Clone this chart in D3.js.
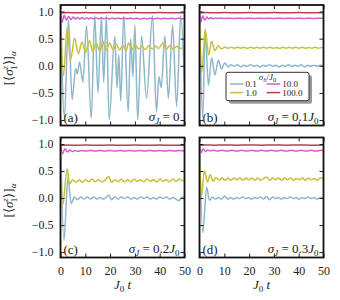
<!DOCTYPE html>
<html><head><meta charset="utf-8">
<script src="https://cdn.jsdelivr.net/npm/d3@7"></script>
<style>body{margin:0;background:#fff} svg{display:block} svg text{font-family:"Liberation Serif","Times New Roman",serif !important;fill:#222}</style>
</head><body><svg id="c" width="340" height="300" font-family="Liberation Serif"></svg>
<script>
// ---------- data ----------
const sigmaH = ["0.1","1.0","10.0","100.0"];
const sigmaJ = ["0","0.1","0.2","0.3"];
const panelTags = ["(a)","(b)","(c)","(d)"];
const colors = ["#8fb7ca","#c9c03d","#cc62d2","#b3424c"];
const xTicks = [0,10,20,30,40,50];
const yTicks = [1.0,0.5,0.0,-0.5,-1.0];
const yTickLabels = ["1.0","0.5","0.0","\u22120.5","\u22121.0"];

// panel (a), sigma_J = 0
const aBlue = [[0,1.0],[1.6,-0.95],[3.2,0.85],[4.7,-0.62],[6.1,-0.05],[6.8,-0.15],[7.7,0.07],[9.0,-0.30],[10.5,0.74],[12.4,-0.97],[13.8,0.92],[15.1,-0.5],[16.5,0.9],[17.4,-0.3],[18.5,0.92],[19.6,-1.0],[21.9,0.55],[22.8,-0.4],[23.5,0.2],[24.3,-0.65],[25.5,0.92],[27.3,-0.85],[28.3,0.5],[29.2,-0.2],[30.0,0.75],[31.1,-1.0],[32.7,0.55],[34.7,-0.6],[37.1,0.92],[38.7,-0.85],[39.7,-0.2],[40.6,-0.4],[42.1,0.55],[43.5,-0.6],[45.2,0.75],[46.8,-0.75],[48.5,0.92],[50,-0.3]];
const aYellow = [[0,1.0],[1.2,-0.18],[2.7,0.70],[4.0,0.10],[5.7,0.51],[7.2,0.22],[8.6,0.44],[10.1,0.25],[11.7,0.46],[13.0,0.26],[14.4,0.42],[15.8,0.27],[17.1,0.45],[18.4,0.28],[19.8,0.42],[21.2,0.30],[22.5,0.40],[23.8,0.29],[25.2,0.38],[26.5,0.28],[27.4,0.42],[28.8,0.30],[30.2,0.38],[31.5,0.31],[32.8,0.36],[34.2,0.30],[35.6,0.37],[37.0,0.31],[38.3,0.36],[39.6,0.32],[41.2,0.42],[42.6,0.30],[44.0,0.37],[45.4,0.31],[46.8,0.36],[48.2,0.32],[50,0.34]];
const aMagenta = [[0,1.0],[0.6,0.80],[1.5,0.93],[2.4,0.84],[3.3,0.91],[4.2,0.85],[5.1,0.90],[6.0,0.86],[6.9,0.89],[7.8,0.86],[8.7,0.89],[9.6,0.86],[10.5,0.885],[11.4,0.865],[12.4,0.885],[13.4,0.865],[14.4,0.88],[15.4,0.865],[16.5,0.885],[17.5,0.865],[18.6,0.88],[19.6,0.86],[20.8,0.88],[22,0.865],[23.2,0.88],[24.4,0.865],[25.6,0.88],[26.8,0.865],[28,0.875],[29.4,0.865],[30.8,0.875],[32.2,0.86],[33.6,0.875],[35,0.865],[36.4,0.875],[37.8,0.865],[39.2,0.875],[40.6,0.865],[42,0.875],[43.4,0.865],[44.8,0.875],[46.2,0.865],[47.6,0.875],[49,0.865],[50,0.87]];
const aRed = [[0,1.0],[0.5,0.975],[3,0.98],[6,0.975],[10,0.98],[15,0.975],[20,0.98],[25,0.975],[30,0.98],[35,0.975],[40,0.98],[45,0.975],[50,0.977]];

// panel (b), sigma_J = 0.1 J0
const bBlue = [[0,1.0],[1.3,-0.95],[2.3,0.66],[3.6,-0.36],[4.9,0.15],[6.2,-0.17],[7.6,0.10],[8.9,-0.06],[10.2,0.05],[11.5,-0.02],[12.8,0.02],[14.0,-0.01],[15.3,0.02],[16.6,-0.02],[17.9,0.01],[19.2,-0.01],[20.5,0.02],[21.8,-0.01],[23.0,0.01],[24.3,-0.02],[25.6,0.01],[26.9,-0.01],[28.2,0.02],[29.5,-0.01],[30.8,0.01],[32.0,-0.02],[33.3,0.01],[34.6,-0.01],[35.9,0.02],[37.2,-0.01],[38.5,0.01],[39.8,-0.01],[41.0,0.02],[42.3,-0.02],[43.6,0.01],[44.9,-0.01],[46.2,0.01],[47.5,-0.01],[48.8,0.01],[50,0.0]];
const bYellow = [[0,1.0],[0.9,-0.12],[2.3,0.67],[3.7,0.20],[4.9,0.45],[6.2,0.28],[7.6,0.37],[8.9,0.31],[10.2,0.345],[11.5,0.325],[12.8,0.34],[14.1,0.325],[15.4,0.34],[16.7,0.325],[18.0,0.34],[19.3,0.32],[20.6,0.34],[21.9,0.325],[23.2,0.34],[24.5,0.325],[25.8,0.34],[27.1,0.325],[28.4,0.34],[29.7,0.325],[31.0,0.335],[32.3,0.32],[33.6,0.34],[34.9,0.325],[36.2,0.34],[37.5,0.325],[38.8,0.34],[40.1,0.325],[41.4,0.34],[42.7,0.325],[44.0,0.335],[45.3,0.325],[46.6,0.34],[47.9,0.325],[49.2,0.335],[50,0.33]];
const bMagenta = [[0,1.0],[0.5,0.80],[1.3,0.92],[2.1,0.84],[3.0,0.90],[3.8,0.86],[4.6,0.89],[5.5,0.865],[6.4,0.88],[7.3,0.87],[8.5,0.88],[10,0.87],[12,0.878],[14,0.87],[16,0.878],[18,0.87],[20,0.878],[22,0.87],[24,0.878],[26,0.87],[28,0.878],[30,0.87],[32,0.878],[34,0.87],[36,0.878],[38,0.87],[40,0.878],[42,0.87],[44,0.878],[46,0.87],[48,0.878],[50,0.874]];
const bRed = [[0,1.0],[0.5,0.975],[3,0.98],[6,0.975],[10,0.98],[15,0.976],[20,0.98],[25,0.976],[30,0.98],[35,0.976],[40,0.98],[45,0.976],[50,0.978]];

// panel (c), sigma_J = 0.2 J0
const cBlue = [[0,1.0],[1.4,-0.78],[3.0,0.37],[4.3,-0.10],[5.6,0.02],[6.9,-0.03],[8.2,0.02],[9.5,-0.02],[10.8,0.02],[12.1,-0.02],[13.4,0.02],[14.7,-0.02],[16.0,0.01],[17.3,-0.02],[18.6,0.02],[19.5,0.05],[20.6,-0.03],[21.9,0.02],[23.2,-0.02],[24.5,0.02],[25.8,-0.01],[27.1,0.02],[28.4,-0.02],[29.7,0.01],[31.0,-0.02],[32.3,0.02],[33.6,-0.01],[34.9,0.02],[36.2,-0.02],[37.5,0.01],[38.8,-0.02],[40.1,0.02],[41.4,-0.01],[42.7,0.02],[44.0,-0.02],[45.3,0.01],[46.6,-0.02],[47.8,-0.05],[49.0,0.02],[50,0.01]];
const cYellow = [[0,1.0],[0.9,-0.13],[2.7,0.54],[3.6,0.26],[4.9,0.34],[6.2,0.29],[7.5,0.34],[8.8,0.29],[10.1,0.34],[11.4,0.30],[12.7,0.35],[14.0,0.30],[15.3,0.34],[16.6,0.30],[17.9,0.33],[19.4,0.40],[20.6,0.29],[21.9,0.34],[23.2,0.30],[24.5,0.35],[25.8,0.30],[27.1,0.34],[28.4,0.30],[29.7,0.35],[31.0,0.31],[32.3,0.34],[33.6,0.30],[34.9,0.35],[36.2,0.31],[37.5,0.34],[38.8,0.30],[40.1,0.35],[41.4,0.31],[42.7,0.34],[44.0,0.30],[45.3,0.35],[46.6,0.31],[47.9,0.35],[49.2,0.32],[50,0.34]];
const cMagenta = [[0,1.0],[0.8,0.82],[1.8,0.91],[2.8,0.85],[3.8,0.89],[4.8,0.86],[5.8,0.88],[7,0.865],[8.5,0.878],[10,0.868],[12,0.878],[14,0.868],[16,0.878],[18,0.868],[20,0.878],[22,0.868],[24,0.878],[26,0.868],[28,0.878],[30,0.868],[32,0.878],[34,0.868],[36,0.878],[38,0.868],[40,0.878],[42,0.868],[44,0.878],[46,0.868],[48,0.878],[50,0.872]];
const cRed = [[0,1.0],[0.5,0.975],[3,0.98],[6,0.975],[10,0.98],[15,0.976],[20,0.98],[25,0.976],[30,0.98],[35,0.976],[40,0.98],[45,0.976],[50,0.978]];

// panel (d), sigma_J = 0.3 J0
const dBlue = [[0,1.0],[1.3,-0.64],[2.9,0.20],[4.0,-0.04],[5.2,0.02],[6.4,-0.02],[7.6,0.01],[8.8,-0.02],[10.2,0.04],[11.4,-0.02],[12.6,0.01],[13.8,-0.02],[15.0,0.01],[16.2,-0.01],[17.4,0.02],[18.6,-0.01],[19.8,0.01],[21.0,-0.02],[22.2,0.01],[23.4,-0.01],[24.6,0.02],[25.8,-0.02],[27.0,0.03],[28.2,-0.03],[29.4,0.02],[30.6,-0.01],[31.8,0.01],[33.0,-0.02],[34.2,0.01],[35.4,-0.01],[36.6,0.02],[37.8,-0.01],[39.0,0.01],[40.2,-0.02],[41.4,0.01],[42.6,-0.01],[43.8,0.02],[45.0,-0.01],[46.2,0.01],[47.4,-0.02],[48.6,0.01],[50,0.0]];
const dYellow = [[0,1.0],[0.7,0.0],[2.0,0.50],[3.2,0.30],[4.3,0.43],[5.5,0.31],[6.7,0.38],[7.9,0.33],[9.1,0.37],[10.3,0.33],[11.5,0.37],[12.7,0.33],[13.9,0.37],[15.1,0.34],[16.3,0.37],[17.5,0.33],[18.7,0.37],[19.9,0.34],[21.1,0.37],[22.3,0.33],[23.5,0.37],[24.7,0.33],[25.9,0.36],[27.1,0.39],[28.3,0.33],[29.5,0.37],[30.7,0.34],[31.9,0.37],[33.1,0.33],[34.3,0.37],[35.5,0.34],[36.7,0.37],[37.9,0.33],[39.1,0.36],[40.3,0.34],[41.5,0.37],[42.7,0.33],[43.9,0.37],[45.1,0.34],[46.3,0.36],[47.5,0.33],[48.7,0.37],[50,0.35]];
const dMagenta = [[0,1.0],[0.6,0.84],[1.5,0.91],[2.4,0.86],[3.3,0.89],[4.3,0.87],[5.5,0.885],[7,0.872],[9,0.882],[11,0.872],[13,0.882],[15,0.872],[17,0.882],[19,0.872],[21,0.882],[23,0.872],[25,0.882],[27,0.872],[29,0.882],[31,0.872],[33,0.882],[35,0.872],[37,0.882],[39,0.872],[41,0.882],[43,0.872],[45,0.882],[47,0.872],[49,0.882],[50,0.878]];
const dRed = [[0,1.0],[0.5,0.978],[3,0.982],[6,0.978],[10,0.982],[15,0.978],[20,0.982],[25,0.978],[30,0.982],[35,0.978],[40,0.982],[45,0.978],[50,0.98]];

// ---------- drawing ----------
const svg = d3.select("#c");
const colX = [[60.5,184.5],[199.5,323.5]];
const rowY = [[5,125.5],[137.5,257.5]];
const panels = [
  {col:0,row:0,series:[aBlue,aYellow,aMagenta,aRed]},
  {col:1,row:0,series:[bBlue,bYellow,bMagenta,bRed]},
  {col:0,row:1,series:[cBlue,cYellow,cMagenta,cRed]},
  {col:1,row:1,series:[dBlue,dYellow,dMagenta,dRed]}
];
const FF = "'Liberation Serif','Times New Roman',serif";

panels.forEach((p,i)=>{
  const [x0,x1]=colX[p.col], [y0,y1]=rowY[p.row];
  const x=d3.scaleLinear().domain([0,50]).range([x0,x1]);
  const y=d3.scaleLinear().domain([-1.1,1.12]).range([y1,y0]);
  const g=svg.append("g");
  const cid="clip"+i;
  svg.append("clipPath").attr("id",cid).append("rect").attr("x",x0).attr("y",y0).attr("width",x1-x0).attr("height",y1-y0);
  const line=d3.line().x(d=>x(d[0])).y(d=>y(d[1])).curve(d3.curveMonotoneX);
  const lg=g.append("g").attr("clip-path",`url(#${cid})`);
  p.series.forEach((s,k)=>{
    lg.append("path").attr("d",line(s)).attr("fill","none").attr("stroke",colors[k]).attr("stroke-width",1.5).attr("stroke-linejoin","round");
  });
  const ax=[
    g.append("g").attr("transform",`translate(0,${y1})`).call(d3.axisBottom(x).tickValues(xTicks).tickSize(-4).tickFormat(p.row===1?d3.format("d"):"")),
    g.append("g").attr("transform",`translate(0,${y0})`).call(d3.axisTop(x).tickValues(xTicks).tickSize(-4).tickFormat("")),
    g.append("g").attr("transform",`translate(${x0},0)`).call(d3.axisLeft(y).tickValues(yTicks).tickSize(-4).tickFormat((d,j)=>p.col===0?yTickLabels[j]:"")),
    g.append("g").attr("transform",`translate(${x1},0)`).call(d3.axisRight(y).tickValues(yTicks).tickSize(-4).tickFormat(""))
  ];
  ax.forEach(a=>{a.attr("font-family",null);a.select(".domain").remove();a.selectAll("line").attr("stroke","#222").attr("stroke-width",1);
    a.selectAll("text").style("font-family",FF).attr("font-size",12).attr("fill","#222");});
  ax[0].selectAll("text").attr("dy","0.95em").attr("y",6);
  ax[2].selectAll("text").attr("x",-7);
  g.append("rect").attr("x",x0).attr("y",y0).attr("width",x1-x0).attr("height",y1-y0).attr("fill","none").attr("stroke","#111").attr("stroke-width",1.8);
  g.append("text").style("font-family",FF).attr("x",x0+3).attr("y",y1-4).attr("font-size",13).text(panelTags[i]);
  const t=g.append("text").style("font-family",FF).attr("x",x1-5).attr("y",y1-5).attr("font-size",13).attr("text-anchor","end");
  t.append("tspan").attr("font-style","italic").text("\u03C3");
  t.append("tspan").attr("font-style","italic").attr("font-size",9).attr("dy",3).text("J");
  if(sigmaJ[i]==="0"){
    t.append("tspan").attr("dy",-3).text(" = 0");
  } else {
    t.append("tspan").attr("dy",-3).text(" = "+sigmaJ[i]);
    t.append("tspan").attr("font-style","italic").text("J");
    t.append("tspan").attr("font-size",9).attr("dy",3).text("0");
  }
  if(p.col===0){
    const yc=(y0+y1)/2+3;
    const yl=svg.append("text").style("font-family",FF).attr("transform",`translate(13,${yc}) rotate(-90)`).attr("text-anchor","middle").attr("font-size",13);
    yl.append("tspan").text("[\u27E8");
    yl.append("tspan").attr("font-style","italic").text("\u03C3");
    yl.append("tspan").attr("font-style","italic").attr("font-size",9).attr("dy",-5).text("z");
    yl.append("tspan").attr("font-size",9).attr("dx",-4).attr("dy",9).text("1");
    yl.append("tspan").attr("dy",-4).text("\u27E9]");
    yl.append("tspan").attr("font-style","italic").attr("font-size",9).attr("dy",3).text("\u03B1");
  }
  if(p.row===1){
    const xl=svg.append("text").style("font-family",FF).attr("x",(x0+x1)/2).attr("y",289).attr("text-anchor","middle").attr("font-size",13);
    xl.append("tspan").attr("font-style","italic").text("J");
    xl.append("tspan").attr("font-size",9).attr("dy",3).text("0");
    xl.append("tspan").attr("font-style","italic").attr("dy",-3).text(" t");
  }
});

// legend in panel (b)
const lgx=226, lgy=72.3, lgw=83, lgh=28.4;
svg.append("rect").attr("x",lgx+3).attr("y",lgy+3).attr("width",lgw).attr("height",lgh).attr("rx",2).attr("fill","#9a9a9a");
svg.append("rect").attr("x",lgx).attr("y",lgy).attr("width",lgw).attr("height",lgh).attr("rx",2).attr("fill","#fff").attr("stroke","#333").attr("stroke-width",1);
const lt=svg.append("text").style("font-family",FF).attr("x",lgx+lgw/2).attr("y",lgy+7.5).attr("text-anchor","middle").attr("font-size",9);
lt.append("tspan").attr("font-style","italic").text("\u03C3");
lt.append("tspan").attr("font-style","italic").attr("font-size",6.5).attr("dy",2).text("h");
lt.append("tspan").attr("dy",-2).text("/");
lt.append("tspan").attr("font-style","italic").text("J");
lt.append("tspan").attr("font-size",6.5).attr("dy",2).text("0");
const legPos=[[0,0],[0,1],[1,0],[1,1]];
sigmaH.forEach((s,k)=>{
  const [c,r]=legPos[k];
  const lx=lgx+4+c*36.7, ly=lgy+11.7+r*8.6;
  svg.append("line").attr("x1",lx).attr("x2",lx+13.5).attr("y1",ly).attr("y2",ly).attr("stroke",colors[k]).attr("stroke-width",1.5);
  svg.append("text").style("font-family",FF).attr("x",lx+15.5).attr("y",ly+3).attr("font-size",9).text(s);
});
</script></body></html>
